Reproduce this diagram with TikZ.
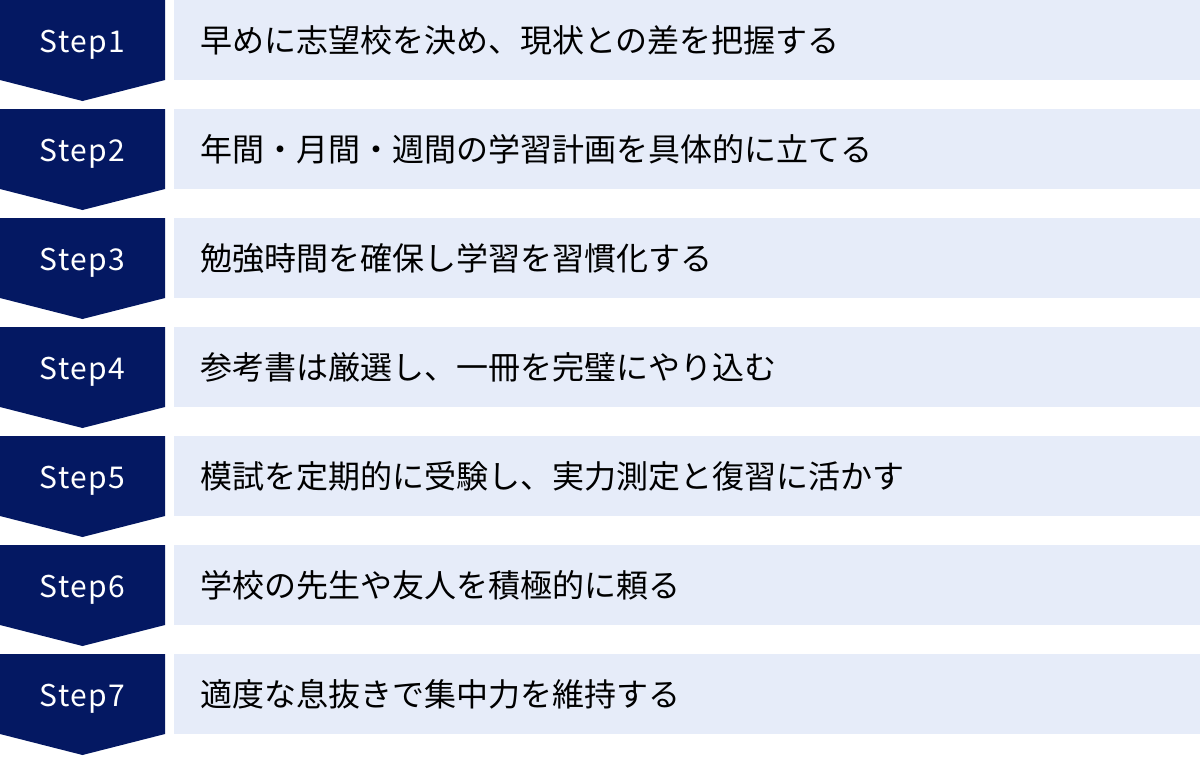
\documentclass[tikz,border=0pt]{standalone}
\usepackage{fontspec}
\setmainfont{Noto Sans}
\newfontfamily\jpfont{Noto Sans CJK JP}
\newfontfamily\stepfont[LetterSpace=5]{Noto Sans CJK JP}
\definecolor{navy}{HTML}{041862}
\definecolor{pale}{HTML}{E6ECF9}
\tikzset{
  chevron/.style={fill=navy},
  stepnum/.style={text=white, font=\stepfont\fontsize{30}{36}\selectfont, inner sep=0pt, anchor=base},
  stepbody/.style={fill=pale, anchor=north west, inner ysep=0pt, inner xsep=26pt,
    text width=974pt, minimum height=80pt, align=left, text=black,
    font=\jpfont\fontsize{32}{38}\selectfont}
}
\begin{document}
\begin{tikzpicture}[x=1pt,y=-1pt]
\useasboundingbox (0,0) rectangle (1200,756);
\foreach \i/\t in {
  1/早めに志望校を決め、現状との差を把握する,
  2/年間・月間・週間の学習計画を具体的に立てる,
  3/勉強時間を確保し学習を習慣化する,
  4/参考書は厳選し、一冊を完璧にやり込む,
  5/模試を定期的に受験し、実力測定と復習に活かす,
  6/学校の先生や友人を積極的に頼る,
  7/適度な息抜きで集中力を維持する} {
  \pgfmathsetmacro\rowtop{109*(\i-1)}
  \fill[chevron] (0,\rowtop) -- (165,\rowtop) -- (165,\rowtop+80) -- (82.5,\rowtop+101) -- (0,\rowtop+80) -- cycle;
  \node[stepnum] (s\i) at (82.5,\rowtop+52.5) {Step\i};
  \node[stepbody] (b\i) at (174,\rowtop) {\t};
}
\end{tikzpicture}
\end{document}
